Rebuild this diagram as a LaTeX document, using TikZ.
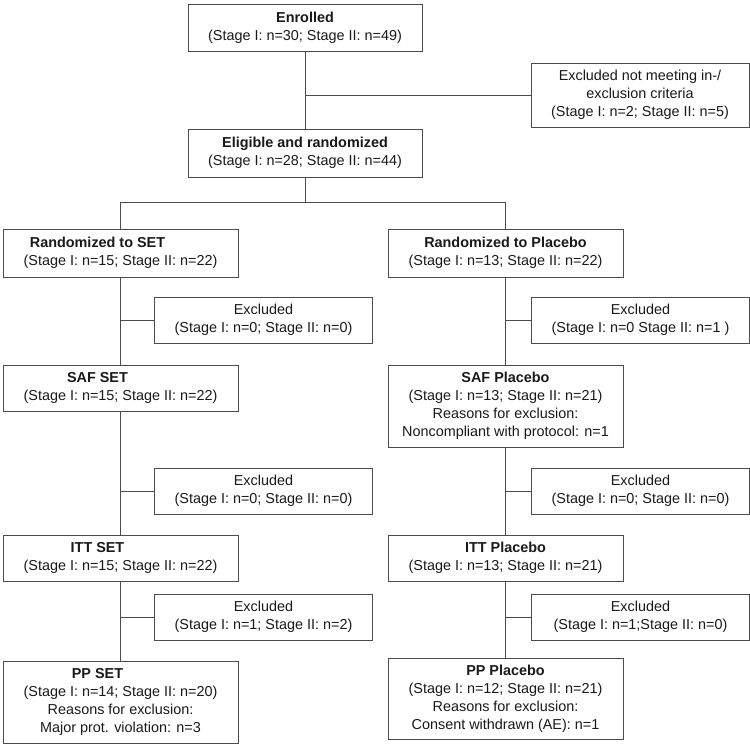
\documentclass[tikz,border=0pt]{standalone}
\usepackage{fontspec}
\setmainfont{Liberation Sans}
\tikzset{
  box/.style={draw=black!70, line width=1pt, rectangle, inner sep=0pt, align=center,
    font=\fontsize{14.4}{18}\selectfont, text=black!90},
  wbox/.style={box, minimum width=235pt},
  xbox/.style={box, minimum width=218pt, minimum height=46pt},
  conn/.style={draw=black!70, line width=1pt},
}
\newcommand{\tsh}{\hspace*{46pt}}
\begin{document}
\begin{tikzpicture}[x=1pt, y=-1pt]
\useasboundingbox (0,0) rectangle (750,747);
% top
\node[box, minimum width=234pt, minimum height=47pt] (enr) at (305,27.5)
  {\textbf{Enrolled}\\(Stage I: n=30; Stage II: n=49)};
\node[box, minimum width=218pt, minimum height=64pt] (exc0) at (640,95)
  {Excluded not meeting in-/\\exclusion criteria\\(Stage I: n=2; Stage II: n=5)};
\node[box, minimum width=234pt, minimum height=48pt] (elig) at (305,153)
  {\textbf{Eligible and randomized}\\(Stage I: n=28; Stage II: n=44)};
\coordinate (sp) at (305,202);
% SET column
\node[wbox, minimum height=48pt] (rset) at (120.5,253)
  {\textbf{Randomized to SET}\tsh\\(Stage I: n=15; Stage II: n=22)};
\node[xbox] (ex1s) at (263.5,320)
  {Excluded\\(Stage I: n=0; Stage II: n=0)};
\node[wbox, minimum height=46pt] (safs) at (120.5,388)
  {\textbf{SAF SET}\tsh\\(Stage I: n=15; Stage II: n=22)};
\node[xbox] (ex2s) at (263.5,491)
  {Excluded\\(Stage I: n=0; Stage II: n=0)};
\node[wbox, minimum height=46pt] (itts) at (120.5,558)
  {\textbf{ITT SET}\tsh\\(Stage I: n=15; Stage II: n=22)};
\node[xbox] (ex3s) at (263.5,617)
  {Excluded\\(Stage I: n=1; Stage II: n=2)};
\node[wbox, minimum height=82pt] (pps) at (120.5,702)
  {\textbf{PP SET}\tsh\\(Stage I: n=14; Stage II: n=20)\\Reasons for exclusion:\\Major prot. violation: n=3};
% Placebo column
\node[wbox, minimum height=48pt] (rpla) at (505.5,253)
  {\textbf{Randomized to Placebo}\\(Stage I: n=13; Stage II: n=22)};
\node[xbox] (ex1p) at (640.5,320)
  {Excluded\\(Stage I: n=0 Stage II: n=1 )};
\node[wbox, minimum height=82pt] (safp) at (505.5,406)
  {\textbf{SAF Placebo}\\(Stage I: n=13; Stage II: n=21)\\Reasons for exclusion:\\Noncompliant with protocol: n=1};
\node[xbox] (ex2p) at (640.5,491)
  {Excluded\\(Stage I: n=0; Stage II: n=0)};
\node[wbox, minimum height=46pt] (ittp) at (505.5,558)
  {\textbf{ITT Placebo}\\(Stage I: n=13; Stage II: n=21)};
\node[xbox] (ex3p) at (640.5,617)
  {Excluded\\(Stage I: n=1;Stage II: n=0)};
\node[wbox, minimum height=81pt] (ppp) at (505.5,698.5)
  {\textbf{PP Placebo}\\(Stage I: n=12; Stage II: n=21)\\Reasons for exclusion:\\Consent withdrawn (AE): n=1};
% connectors
\draw[conn] (enr.south) -- (elig.north);
\draw[conn] (exc0.west) -- (exc0.west -| enr.south);
\draw[conn] (elig.south) -- (sp);
\draw[conn] (rset.north) -- (rset.north |- sp) -- (rpla.north |- sp) -- (rpla.north);
\draw[conn] (rset.south) -- (safs.north);
\draw[conn] (safs.south) -- (itts.north);
\draw[conn] (itts.south) -- (pps.north);
\draw[conn] (ex1s.west) -- (ex1s.west -| rset.south);
\draw[conn] (ex2s.west) -- (ex2s.west -| rset.south);
\draw[conn] (ex3s.west) -- (ex3s.west -| rset.south);
\draw[conn] (rpla.south) -- (safp.north);
\draw[conn] (safp.south) -- (ittp.north);
\draw[conn] (ittp.south) -- (ppp.north);
\draw[conn] (ex1p.west) -- (ex1p.west -| rpla.south);
\draw[conn] (ex2p.west) -- (ex2p.west -| rpla.south);
\draw[conn] (ex3p.west) -- (ex3p.west -| rpla.south);
\end{tikzpicture}
\end{document}
